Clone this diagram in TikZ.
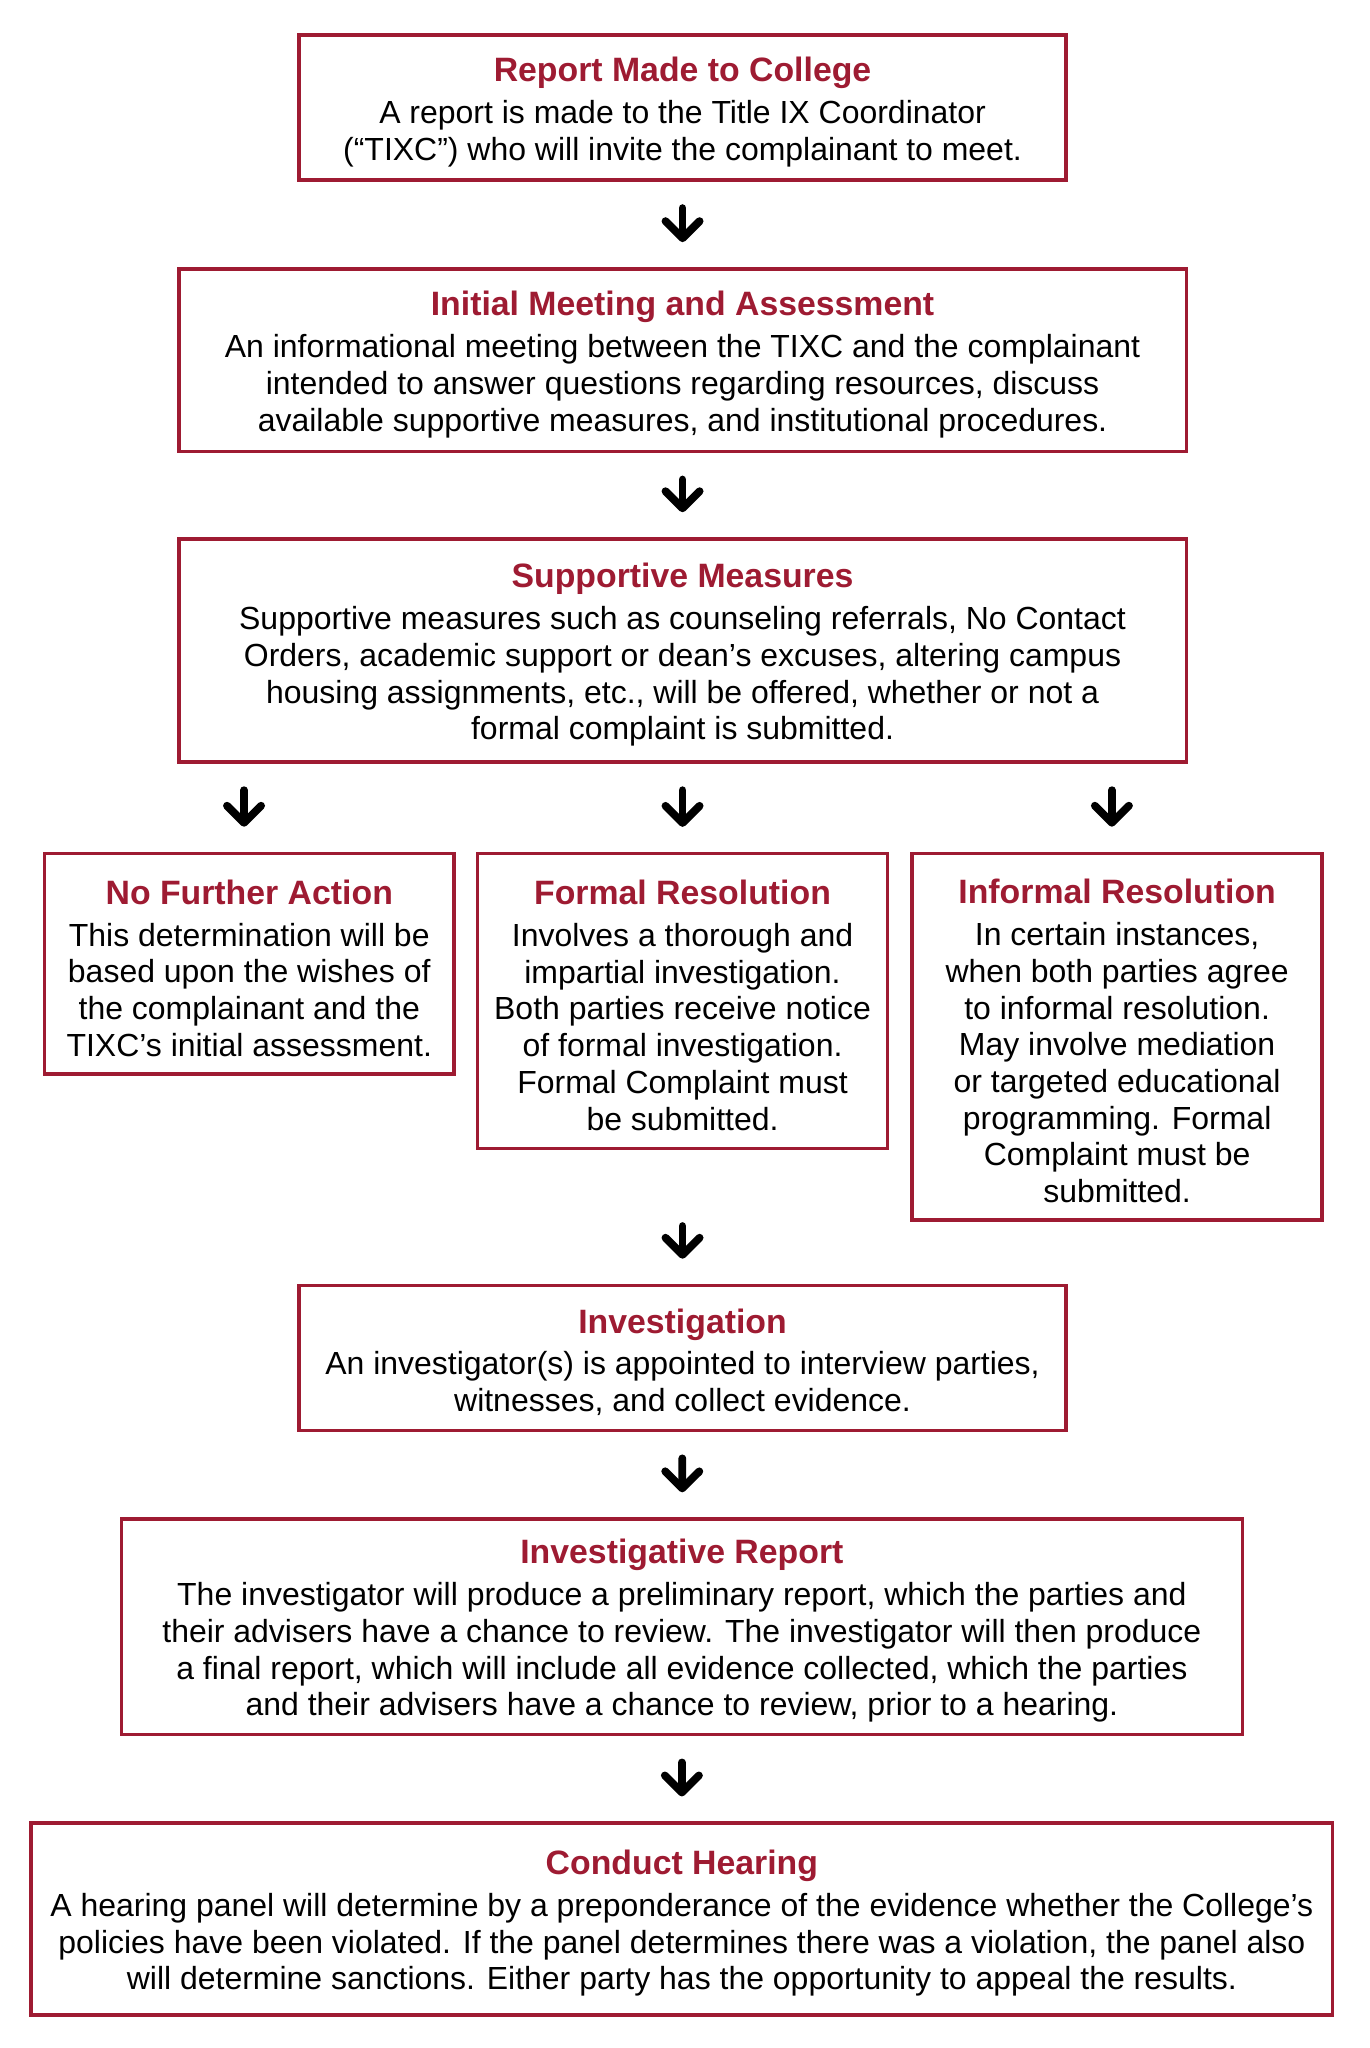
\documentclass[tikz,border=0pt]{standalone}
\usepackage{fontspec}
\setmainfont{Liberation Sans}
\usepackage{tikz}
\usetikzlibrary{arrows.meta}
\definecolor{crimson}{RGB}{158,27,50}
\tikzset{stage/.style={draw=crimson,line width=1.4pt,align=center,inner sep=0pt,
  font=\fontsize{12.2}{14}\selectfont}}
\tikzset{flow/.style={-{Straight Barb[length=6.5pt,width=13pt,round]},line width=3pt,line cap=round,
  shorten <=10pt,shorten >=9.5pt}}
\newcommand{\stagetitle}[1]{{\fontsize{12.9}{14}\selectfont\bfseries\color{crimson}\rule{0pt}{12.6pt}#1}\\[2pt]}

\begin{document}
\begin{tikzpicture}[x=0.498pt,y=-0.498pt]
  \useasboundingbox (0,0) rectangle (1049.2,1569.3);
  \node[stage,minimum width=292.8pt,minimum height=55.3pt] (report) at (523,82.5)
    {\stagetitle{Report Made to College}
     A report is made to the Title IX Coordinator\\
     (``TIXC'') who will invite the complainant to meet.};
  \node[stage,minimum width=384.5pt,minimum height=69.7pt] (meeting) at (523,276)
    {\stagetitle{Initial Meeting and Assessment}
     An informational meeting between the TIXC and the complainant\\
     intended to answer questions regarding resources, discuss\\
     available supportive measures, and institutional procedures.};
  \node[stage,minimum width=384.5pt,minimum height=85.2pt] (support) at (523,498.5)
    {\stagetitle{Supportive Measures}
     Supportive measures such as counseling referrals, No Contact\\
     Orders, academic support or dean's excuses, altering campus\\
     housing assignments, etc., will be offered, whether or not a\\
     formal complaint is submitted.};
  \node[stage,minimum width=156.4pt,minimum height=84.2pt] (noaction) at (191,738.5)
    {\stagetitle{No Further Action}
     This determination will be\\
     based upon the wishes of\\
     the complainant and the\\
     TIXC's initial assessment.};
  \node[stage,minimum width=156.4pt,minimum height=112.5pt] (formal) at (523,767)
    {\stagetitle{Formal Resolution}
     Involves a thorough and\\
     impartial investigation.\\
     Both parties receive notice\\
     of formal investigation.\\
     Formal Complaint must\\
     be submitted.};
  \node[stage,minimum width=156.4pt,minimum height=140pt] (informal) at (856,794.5)
    {\stagetitle{Informal Resolution}
     In certain instances,\\
     when both parties agree\\
     to informal resolution.\\
     May involve mediation\\
     or targeted educational\\
     programming. Formal\\
     Complaint must be\\
     submitted.};
  \node[stage,minimum width=292.8pt,minimum height=55.3pt] (investigation) at (523,1040.5)
    {\stagetitle{Investigation}
     An investigator(s) is appointed to interview parties,\\
     witnesses, and collect evidence.};
  \node[stage,minimum width=427.8pt,minimum height=82.2pt] (invreport) at (522.5,1246.5)
    {\stagetitle{Investigative Report}
     The investigator will produce a preliminary report, which the parties and\\
     their advisers have a chance to review. The investigator will then produce\\
     a final report, which will include all evidence collected, which the parties\\
     and their advisers have a chance to review, prior to a hearing.};
  \node[stage,minimum width=496.5pt,minimum height=73.2pt] (hearing) at (522.5,1470.5)
    {\stagetitle{Conduct Hearing}
     A hearing panel will determine by a preponderance of the evidence whether the College's\\
     policies have been violated. If the panel determines there was a violation, the panel also\\
     will determine sanctions. Either party has the opportunity to appeal the results.};
  % arrows between the stages
  \draw[flow] (report) -- (meeting);
  \draw[flow] (meeting) -- (support);
  \draw[flow] (support.south -| 187,0) -- (noaction.north -| 187,0);
  \draw[flow] (support) -- (formal);
  \draw[flow] (support.south -| 852,0) -- (informal.north -| 852,0);
  \coordinate (merge) at (investigation.north |- informal.south);
  \draw[flow,shorten <=1.5pt] (merge) -- (investigation);
  \draw[flow] (investigation) -- (invreport);
  \draw[flow] (invreport) -- (hearing);
\end{tikzpicture}
\end{document}
